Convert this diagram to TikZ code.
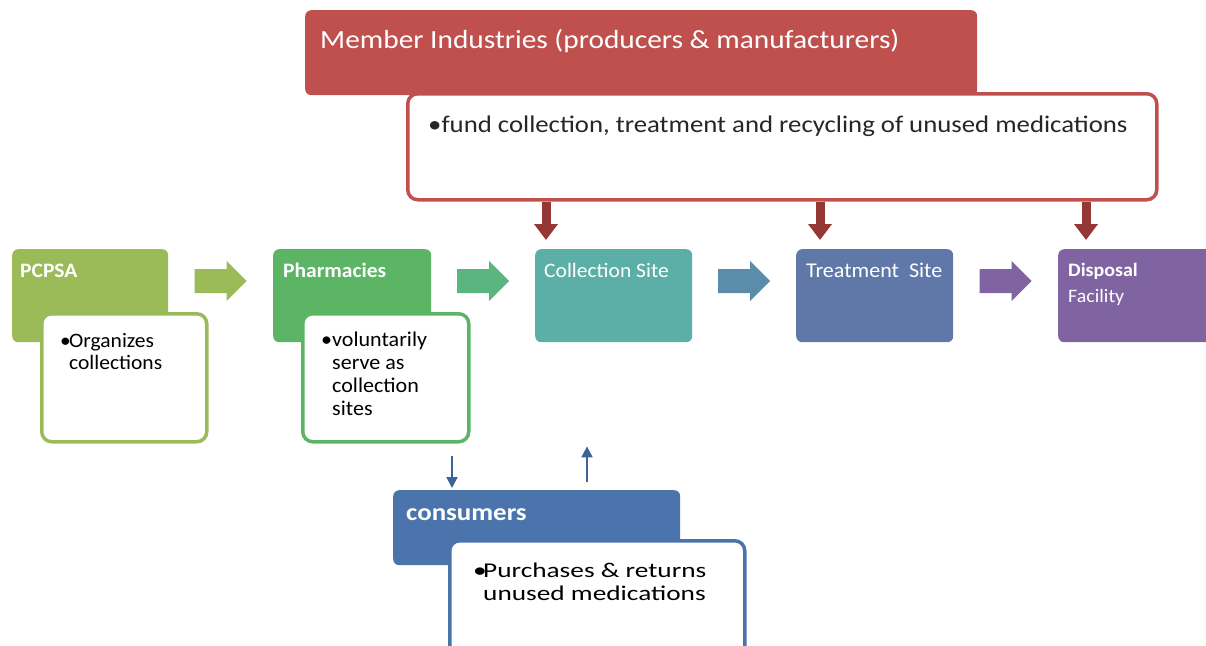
\documentclass[tikz,border=0pt]{standalone}
\usepackage{fontspec}
\setmainfont{Carlito}[FakeStretch=1.05]
\newfontfamily\widefont{Carlito}[FakeStretch=1.3]
\newfontfamily\midfont{Carlito}[FakeStretch=1.12]
\usetikzlibrary{arrows.meta,calc}
\definecolor{cRed}{HTML}{C0504D}
\definecolor{cRedDark}{HTML}{953735}
\definecolor{cOlive}{HTML}{9BBB59}
\definecolor{cGreen}{HTML}{5BB565}
\definecolor{cTeal}{HTML}{5CAFA7}
\definecolor{cSlate}{HTML}{5F78A8}
\definecolor{cPurple}{HTML}{8064A2}
\definecolor{cBlue}{HTML}{4A74AB}
\definecolor{cBlueDark}{HTML}{3C6496}
\definecolor{aGreen}{HTML}{5BB57F}
\definecolor{aSteel}{HTML}{5B8CAA}
\begin{document}
\begin{tikzpicture}[x=1pt,y=-1pt,
  hdr/.style={fill=#1, draw=none, rounded corners=6pt, anchor=north west, inner sep=0pt},
  descbox/.style={fill=white, draw=#1, line width=3.5pt, rounded corners=10pt, anchor=north west, inner sep=0pt},
  lbl/.style={anchor=base west, inner sep=0pt, text=white},
  dtxt/.style={anchor=base west, inner sep=0pt, text=black, align=left},
  blockarr/.pic={\fill[pic actions] (-26,-12) -- (6,-12) -- (6,-20) -- (26,0) -- (6,20) -- (6,12) -- (-26,12) -- cycle;},
  redarr/.style={draw=cRedDark, line width=9pt, -{Triangle[width=23pt,length=16pt]}},
  bluearr/.style={draw=cBlueDark, line width=2pt, -{Triangle[width=11pt,length=11pt]}}
]
\useasboundingbox (0,0) rectangle (1206,645);

% Member industries
\node[hdr=cRed, minimum width=672pt, minimum height=85pt] (mem) at (305,10) {};
\node[lbl, font=\midfont\fontsize{26.2}{30}\selectfont] (memt) at (320,48) {Member Industries (producers \& manufacturers)};
\node[descbox=cRed, minimum width=749pt, minimum height=106pt] (fund) at (406,92) {};
\node[dtxt, text=black!85, font=\midfont\fontsize{23.9}{27}\selectfont] (fundt) at (428,132) {\textbullet fund collection, treatment and recycling of unused medications};

% row boxes
\node[hdr=cOlive, minimum width=156pt, minimum height=93pt] (pcpsa) at (12,249) {};
\node[lbl, font=\bfseries\fontsize{20.5}{22}\selectfont] (pcpsat) at (20,277) {PCPSA};
\node[descbox=cOlive, minimum width=165pt, minimum height=128pt] (org) at (40,312) {};
\node[dtxt, font=\fontsize{20.5}{22}\selectfont] (orgt) at (60,369) {\makebox[9pt][l]{\textbullet}Organizes\\\hspace*{9pt}collections};

\node[hdr=cGreen, minimum width=158pt, minimum height=93pt] (pharm) at (273,249) {};
\node[lbl, font=\bfseries\fontsize{20.5}{22}\selectfont] (pharmt) at (283,277) {Pharmacies};
\node[descbox=cGreen, minimum width=166pt, minimum height=128pt] (vol) at (301,312) {};
\node[dtxt, font=\fontsize{21}{22.7}\selectfont] (volt) at (321,415) {\makebox[11pt][l]{\textbullet}voluntarily\\\hspace*{11pt}serve as\\\hspace*{11pt}collection\\\hspace*{11pt}sites};

\node[hdr=cTeal, minimum width=157pt, minimum height=93pt] (coll) at (535,249) {};
\node[lbl, font=\fontsize{20.5}{22}\selectfont] (collt) at (544,277) {Collection Site};

\node[hdr=cSlate, minimum width=157pt, minimum height=93pt] (treat) at (796,249) {};
\node[lbl, font=\fontsize{21}{22}\selectfont] (treatt) at (806,277) {Treatment\ \ Site};

\node[hdr=cPurple, minimum width=170pt, minimum height=93pt] (disp) at (1058,249) {};
\node[lbl, font=\fontsize{19}{26}\selectfont, align=left] (dispt) at (1068,302) {\textbf{Disposal}\\Facility};

% consumers
\node[hdr=cBlue, minimum width=287pt, minimum height=75pt] (cons) at (393,490) {};
\node[lbl, font=\midfont\bfseries\fontsize{24}{26}\selectfont] (const) at (406,520) {consumers};
\node[descbox=cBlue, minimum width=295pt, minimum height=130pt] (purch) at (448,539) {};
\node[dtxt, font=\widefont\fontsize{21}{23}\selectfont] (purcht) at (473,600) {\makebox[10pt][l]{\textbullet}Purchases \& returns\\\hspace*{10pt}unused medications};

% block arrows
\path ($(pcpsa.north east)!0.5!(pharm.north west)+(0,32)$) pic[fill=cOlive] {blockarr};
\path ($(pharm.north east)!0.5!(coll.north west)+(0,32)$) pic[fill=aGreen] {blockarr};
\path ($(coll.north east)!0.5!(treat.north west)+(0,32)$) pic[fill=aSteel] {blockarr};
\path ($(treat.north east)!0.5!(disp.north west)+(0,32)$) pic[fill=cPurple] {blockarr};

% red arrows
\draw[redarr] (fund.south -| 546,0) -- ($(coll.north -| 546,0)+(0,-9)$);
\draw[redarr] (fund.south -| 820,0) -- ($(treat.north -| 820,0)+(0,-9)$);
\draw[redarr] (fund.south -| 1086,0) -- ($(disp.north -| 1086,0)+(0,-9)$);

% blue arrows
\draw[bluearr] ($(vol.south -| 452,0)+(0,12)$) -- ($(cons.north -| 452,0)+(0,-2)$);
\draw[bluearr] ($(cons.north -| 587,0)+(0,-8)$) -- ($(coll.south -| 587,0)+(0,104)$);
\end{tikzpicture}
\end{document}
